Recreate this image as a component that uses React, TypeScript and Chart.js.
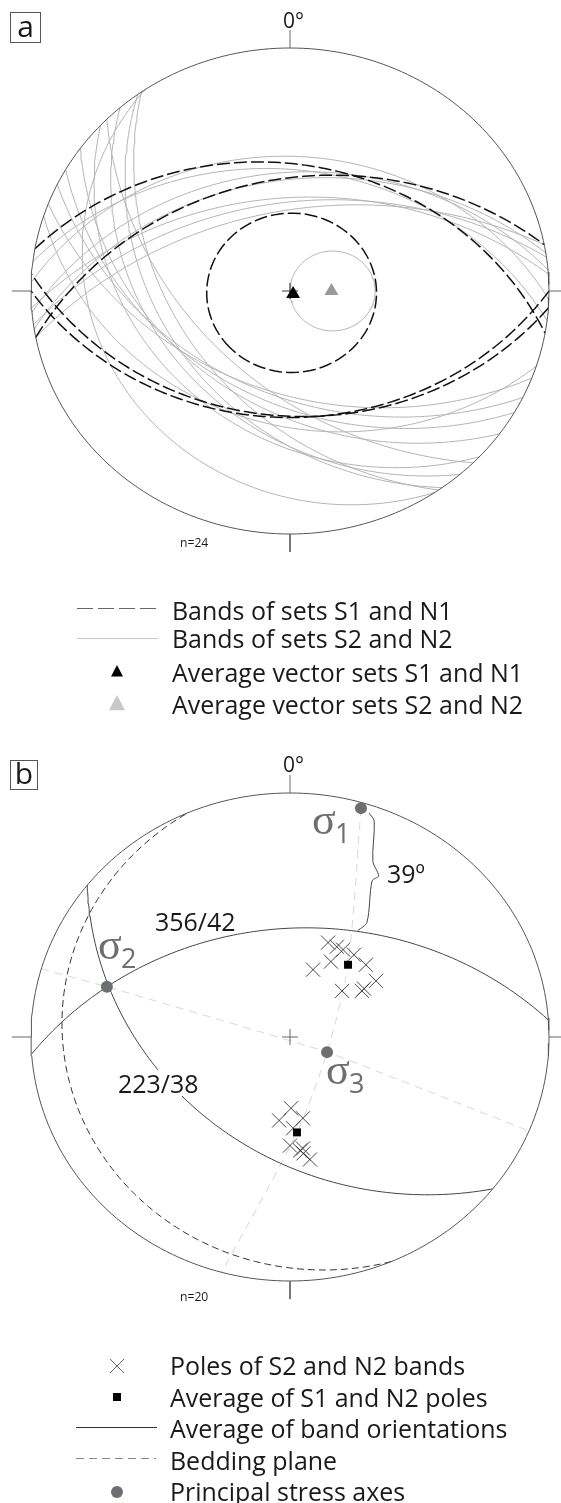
import React, { useEffect, useRef } from "react";
import { Chart, registerables } from "chart.js";

Chart.register(...registerables);

// ---- data: planes as [dip direction, dip], read from the nets ----
const setOnePlanes = [
  [10, 35],
  [349, 40.5],
  [184, 35.5],
  [180, 35],
];
const setOneCone = [140, 89, 36.3]; // trend, plunge, half angle
const setTwoCone = [90, 71.8, 18.2];
const setTwoPlanes = [
  [2, 32], [7, 37], [355, 38], [351, 41], [356, 48], [352, 50], [349, 53.5],
  [198, 32.5], [201, 45], [206, 44.5], [210, 42], [216, 40], [225, 50],
  [223, 31], [235, 43], [234, 38], [236, 16], [229, 35],
];
const meanSetOne = [[0.012, -0.012]];
const meanSetTwo = [[0.16, 0]];

const bandPlanes = [[356, 42], [218.5, 40.5]];
const beddingPlane = [[247, 8]];
const polesS2N2 = [
  [0.147, 0.387], [0.181, 0.37], [0.205, 0.358], [0.247, 0.337], [0.158, 0.309],
  [0.089, 0.276], [0.293, 0.296], [0.332, 0.23], [0.286, 0.198], [0.278, 0.189],
  [0.201, 0.189], [0.004, -0.292], [0.05, -0.333], [-0.042, -0.342], [0.012, -0.374],
  [0, -0.445], [0.05, -0.457], [0.039, -0.465], [0.052, -0.477], [0.077, -0.502],
];
const meanPoles = [[0.224, 0.296], [0.027, -0.391]];
const stressAxes = [[0.274, 0.938], [-0.707, 0.206], [0.143, -0.062]];
const sigmaOneTrace = [[0.274, 0.938], [0.224, 0.296], [0.143, -0.062], [0.027, -0.391], [-0.263, -0.963]];
const sigmaTwoTrace = [[-0.961, 0.28], [-0.707, 0.206], [0.143, -0.062], [0.927, -0.387]];
const angleBrace = [
  [0.305, 0.918], [0.325, 0.885], [0.32, 0.72], [0.342, 0.66], [0.317, 0.64], [0.297, 0.47], [0.262, 0.436],
];

const primitive = [[0, 0], [180, 0]];
const compassTicks = [
  [[0, 1], [0, 1.074]],
  [[0, -1], [0, -1.074]],
  [[-1, 0], [-1.074, 0]],
  [[1, 0], [1.05, 0]],
];
const centre = [[0, 0]];

// ---- text ----
const INK = "#1a1a1a";
const SIGMA = "#6d6e71";
const SANS = '"Open Sans", sans-serif';
type Lab = { t: string; x: number; y: number; s: number; c?: string; f?: string; sx?: number; bg?: boolean };
const labels: Lab[] = [
  { t: "0°", x: 283, y: 20, s: 21 },
  { t: "n=24", x: 180, y: 543, s: 13.5, sx: 0.9 },
  { t: "Bands of sets S1 and N1", x: 172, y: 610, s: 26, sx: 0.96 },
  { t: "Bands of sets S2 and N2", x: 172, y: 638, s: 26, sx: 0.96 },
  { t: "Average vector sets S1 and N1", x: 172, y: 672, s: 26, sx: 0.96 },
  { t: "Average vector sets S2 and N2", x: 172, y: 704, s: 26, sx: 0.96 },
  { t: "0°", x: 283, y: 764, s: 21 },
  { t: "n=20", x: 180, y: 1297, s: 13.5, sx: 0.9 },
  { t: "39º", x: 387, y: 873, s: 26, sx: 0.96 },
  { t: "356/42", x: 155, y: 921, s: 26, sx: 0.96 },
  { t: "223/38", x: 118, y: 1083, s: 26, sx: 0.96, bg: true },
  { t: "σ", x: 312, y: 820, s: 44, c: SIGMA, f: '"Liberation Serif", serif' },
  { t: "1", x: 335, y: 832, s: 27, c: SIGMA },
  { t: "σ", x: 98, y: 945, s: 44, c: SIGMA, f: '"Liberation Serif", serif' },
  { t: "2", x: 121, y: 957, s: 27, c: SIGMA },
  { t: "σ", x: 326, y: 1070, s: 44, c: SIGMA, f: '"Liberation Serif", serif' },
  { t: "3", x: 349, y: 1082, s: 27, c: SIGMA },
  { t: "Poles of S2 and N2 bands", x: 170, y: 1365, s: 26, sx: 0.96 },
  { t: "Average of S1 and N2 poles", x: 170, y: 1397, s: 26, sx: 0.96 },
  { t: "Average of band orientations", x: 170, y: 1428, s: 26, sx: 0.96 },
  { t: "Bedding plane", x: 170, y: 1460, s: 26, sx: 0.96 },
  { t: "Principal stress axes", x: 170, y: 1491, s: 26, sx: 0.96 },
];
const boxes = [
  { t: "a", x: 10, y: 12, w: 31, h: 31 },
  { t: "b", x: 10, y: 760, w: 28, h: 30 },
];

// ---- stereographic (equal-angle) projection ----
const rad = (d: number) => (d * Math.PI) / 180;
const proj = (v: number[]) => ({ x: v[0] / (1 + v[2]), y: v[1] / (1 + v[2]) });
function greatCircle([dd, dip]: number[]) {
  const s = [Math.sin(rad(dd - 90)), Math.cos(rad(dd - 90)), 0];
  const d = [Math.cos(rad(dip)) * Math.sin(rad(dd)), Math.cos(rad(dip)) * Math.cos(rad(dd)), Math.sin(rad(dip))];
  const out = [];
  for (let a = 0; a <= 180; a += 1.5) {
    const c = Math.cos(rad(a));
    const n = Math.sin(rad(a));
    out.push(proj([c * s[0] + n * d[0], c * s[1] + n * d[1], c * s[2] + n * d[2]]));
  }
  return out;
}
function smallCircle([trend, plunge, half]: number[]) {
  const A = [Math.cos(rad(plunge)) * Math.sin(rad(trend)), Math.cos(rad(plunge)) * Math.cos(rad(trend)), Math.sin(rad(plunge))];
  const B = [Math.cos(rad(trend)), -Math.sin(rad(trend)), 0];
  const C = [A[1] * B[2] - A[2] * B[1], A[2] * B[0] - A[0] * B[2], A[0] * B[1] - A[1] * B[0]];
  const out = [];
  for (let t = 0; t <= 360; t += 3) {
    const c = Math.sin(rad(half)) * Math.cos(rad(t));
    const n = Math.sin(rad(half)) * Math.sin(rad(t));
    const k = Math.cos(rad(half));
    out.push(proj([k * A[0] + c * B[0] + n * C[0], k * A[1] + c * B[1] + n * C[1], k * A[2] + c * B[2] + n * C[2]]));
  }
  return out;
}
const pts = (l: number[][]) => l.map(([x, y]) => ({ x, y }));
const line = (data: any, color: string, width: number, dash: number[] = [], tension = 0) => ({
  data, borderColor: color, borderWidth: width, borderDash: dash, showLine: true, pointRadius: 0, fill: false, tension, clip: false as any,
});
const marks = (data: any, style: string, r: number, fill: string, stroke = fill, width = 1) => ({
  data, showLine: false, pointStyle: style, pointRadius: r, backgroundColor: fill, borderColor: stroke, borderWidth: width, clip: false as any,
});

const RIM = "#555";
const GREY = "#b4b4b4";
const BLACK = "#111";
const rimLines = () => [
  ...primitive.map((p) => line(greatCircle(p), RIM, 1)),
  ...compassTicks.map((t) => line(pts(t), "#666", 1)),
];

// Chart.js paints the last dataset first, so these are reversed when handed over.
const datasetsA = () => [
  ...setTwoPlanes.map((p) => line(greatCircle(p), GREY, 1)),
  line(smallCircle(setTwoCone), GREY, 1),
  ...setOnePlanes.map((p) => line(greatCircle(p), BLACK, 1.5, [13, 4])),
  line(smallCircle(setOneCone), BLACK, 1.5, [13, 4]),
  ...rimLines(),
  marks(pts(centre), "cross", 8, "#333", "#333", 1),
  marks(pts(meanSetTwo), "triangle", 8, "#999", "#999", 0),
  marks(pts(meanSetOne), "triangle", 8, "#000", "#000", 0),
].reverse();
const datasetsB = () => [
  line(pts(sigmaOneTrace), "#dcdcdc", 1.1, [8, 6], 0.25),
  line(pts(sigmaTwoTrace), "#dcdcdc", 1.1, [8, 6], 0.1),
  ...bandPlanes.map((p) => line(greatCircle(p), "#444", 1)),
  ...beddingPlane.map((p) => line(greatCircle(p), "#333", 1, [7, 4])),
  line(pts(angleBrace), "#444", 1, [], 0.3),
  ...rimLines(),
  marks(pts(centre), "cross", 8, "#666", "#666", 1),
  marks(pts(polesS2N2), "crossRot", 10, "#333", "#333", 0.9),
  marks(pts(meanPoles), "rect", 5.6, "#000", "#000", 0),
  marks(pts(stressAxes), "circle", 6, SIGMA, SIGMA, 0),
].reverse();

// ---- legend keys, drawn on the chart canvas ----
function hline(c: CanvasRenderingContext2D, x0: number, x1: number, y: number, col: string, dash: number[] = []) {
  c.save();
  c.strokeStyle = col;
  c.lineWidth = 1;
  c.setLineDash(dash);
  c.beginPath();
  c.moveTo(x0, y);
  c.lineTo(x1, y);
  c.stroke();
  c.restore();
}
function tri(c: CanvasRenderingContext2D, x: number, y: number, r: number, col: string) {
  c.fillStyle = col;
  c.beginPath();
  c.moveTo(x, y - r);
  c.lineTo(x + r, y + r * 0.9);
  c.lineTo(x - r, y + r * 0.9);
  c.closePath();
  c.fill();
}
const keysA = {
  id: "keysA",
  afterDraw(ch: any) {
    const c = ch.ctx as CanvasRenderingContext2D;
    hline(c, 77, 158, 608.5, "#666", [16, 5]);
    hline(c, 77, 158, 638.5, "#c8c8c8");
    tri(c, 117, 671, 6, "#000");
    tri(c, 117, 703, 8, "#c8c8c8");
  },
};
const keysB = {
  id: "keysB",
  afterDraw(ch: any) {
    const c = ch.ctx as CanvasRenderingContext2D;
    const o = -760;
    c.save();
    c.strokeStyle = "#666";
    c.lineWidth = 1;
    c.beginPath();
    c.moveTo(110, 1359 + o);
    c.lineTo(124, 1373 + o);
    c.moveTo(124, 1359 + o);
    c.lineTo(110, 1373 + o);
    c.stroke();
    c.restore();
    c.fillStyle = "#000";
    c.fillRect(113, 1393 + o, 8, 8);
    hline(c, 76, 157, 1427.5 + o, "#333");
    hline(c, 76, 156, 1458.5 + o, "#888", [8, 5]);
    c.fillStyle = SIGMA;
    c.beginPath();
    c.arc(117, 1492 + o, 6, 0, Math.PI * 2);
    c.fill();
  },
};

function makeChart(cv: HTMLCanvasElement, ds: any[], pad: any, plugin: any) {
  return new Chart(cv, {
    type: "scatter",
    data: { datasets: ds },
    options: {
      animation: false,
      responsive: false,
      devicePixelRatio: 1,
      layout: { padding: pad },
      plugins: { legend: { display: false }, tooltip: { enabled: false } },
      scales: {
        x: { display: false, min: -1, max: 1 },
        y: { display: false, min: -1, max: 1 },
      },
    } as any,
    plugins: [plugin],
  });
}

export default function App() {
  const a = useRef<HTMLCanvasElement>(null);
  const b = useRef<HTMLCanvasElement>(null);
  useEffect(() => {
    const ca = makeChart(a.current!, datasetsA(), { left: 31, right: 12, top: 48, bottom: 760 - 534 }, keysA);
    const cb = makeChart(b.current!, datasetsB(), { left: 31, right: 12, top: 33, bottom: 743 - 521 }, keysB);
    return () => {
      ca.destroy();
      cb.destroy();
    };
  }, []);
  return (
    <div style={{ position: "absolute", left: 0, top: 0, width: 561, height: 1503, overflow: "hidden", background: "#fff" }}>
      <canvas ref={a} width={561} height={760} style={{ position: "absolute", left: 0, top: 0, display: "block" }} />
      <canvas ref={b} width={561} height={743} style={{ position: "absolute", left: 0, top: 760, display: "block" }} />
      {boxes.map((o) => (
        <div
          key={o.t}
          style={{
            position: "absolute", left: o.x, top: o.y, width: o.w, height: o.h, boxSizing: "border-box",
            border: "1px solid #555", font: `30px ${SANS}`, color: INK, textAlign: "center", lineHeight: `${o.h - 6}px`,
          }}
        >
          {o.t}
        </div>
      ))}
      {labels.map((l, i) => (
        <div
          key={i}
          style={{
            position: "absolute", left: l.x, top: l.y, whiteSpace: "nowrap", lineHeight: 1,
            fontFamily: l.f ?? SANS, fontSize: l.s, color: l.c ?? INK,
            background: l.bg ? "#fff" : undefined,
            transform: `translateY(-50%) scaleX(${l.sx ?? 1})`, transformOrigin: "left center",
          }}
        >
          {l.t}
        </div>
      ))}
    </div>
  );
}
